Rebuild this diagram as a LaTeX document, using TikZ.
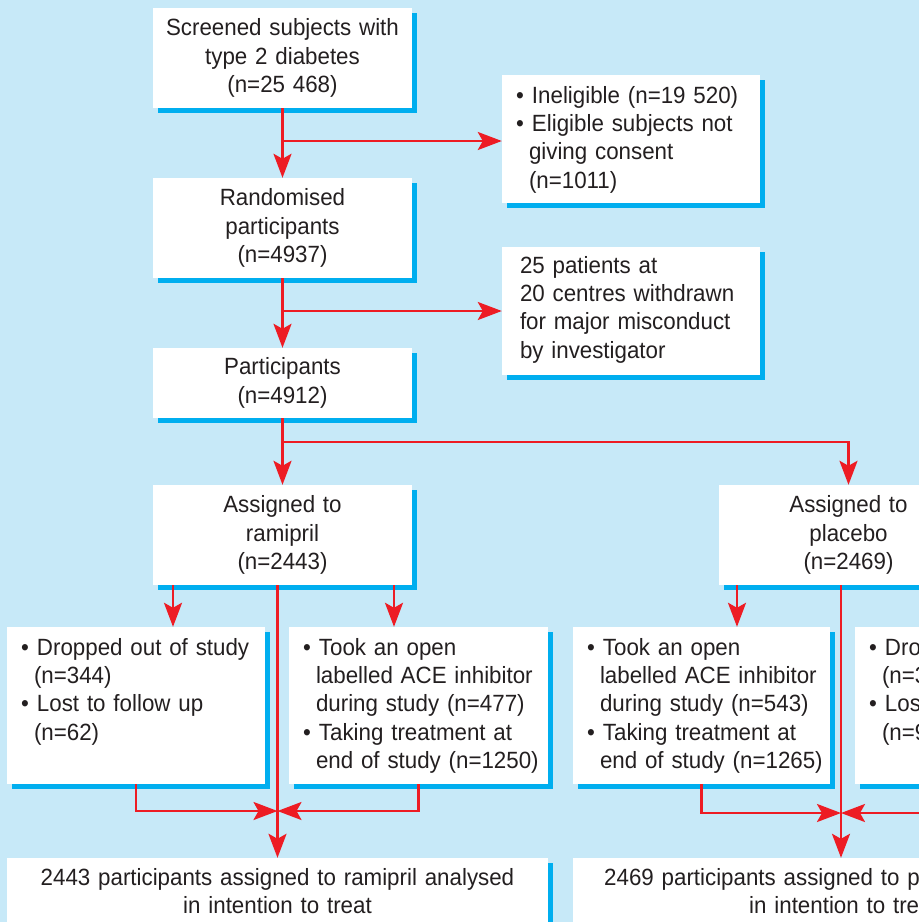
\documentclass[tikz,border=0pt]{standalone}
\usepackage{fontspec}
\setmainfont{Liberation Sans}[FakeStretch=0.95]
\usetikzlibrary{arrows.meta,shadows,calc}
\definecolor{bgc}{RGB}{199,233,248}
\definecolor{shc}{RGB}{0,174,239}
\definecolor{arc}{RGB}{237,28,36}
\definecolor{txc}{RGB}{35,31,32}
\newcommand\bi[1]{\hspace*{14pt}\mbox{\makebox[16pt][l]{•}#1}}
\newcommand\ci[1]{\hspace*{27pt}\mbox{#1}}
\newcommand\padline[1]{\hspace*{18pt}\mbox{#1}}
\begin{document}
\begin{tikzpicture}[x=1pt,y=-1pt,
  box/.style={fill=white, inner sep=0pt, text=txc,
    drop shadow={shadow xshift=5pt,shadow yshift=-5pt,fill=shc,opacity=1},
    font=\fontsize{23.5pt}{28.4pt}\selectfont},
  cbox/.style={box, align=center, text width=#1, minimum width=#1},
  lbox/.style={box, align=left, text width=#1, minimum width=#1},
  arr/.style={draw=arc, line width=2.6pt, -{Stealth[length=24pt,width=18pt,inset=5pt]}},
]
\useasboundingbox (0,0) rectangle (919,922);
\clip (0,0) rectangle (919,922);
\fill[bgc] (0,0) rectangle (919,922);

% boxes
\node[cbox=259pt, minimum height=100pt] (b1) at (282.5,58) {Screened subjects with\\type 2 diabetes\\(n=25 468)};
\node[lbox=258pt, text height=28pt, text depth=100pt] (b2) at (631,139) {\bi{Ineligible (n=19 520)}\\\bi{Eligible subjects not}\\\ci{giving consent}\\\ci{(n=1011)}};
\node[cbox=259pt, minimum height=100pt] (b3) at (282.5,228) {Randomised\\participants\\(n=4937)};
\node[lbox=258pt, text height=26pt, text depth=102pt] (b4) at (631,311) {\padline{25 patients at}\\\padline{20 centres withdrawn}\\\padline{for major misconduct}\\\padline{by investigator}};
\node[cbox=259pt, minimum height=70pt] (b5) at (282.5,383) {Participants\\(n=4912)};
\node[cbox=259pt, minimum height=100pt] (b6) at (282.5,535) {Assigned to\\ramipril\\(n=2443)};
\node[cbox=259pt, minimum height=100pt] (b7) at (848.5,535) {Assigned to\\placebo\\(n=2469)};
\node[lbox=258pt, text height=28pt, text depth=129pt] (b8) at (136,705.5) {\bi{Dropped out of study}\\\ci{(n=344)}\\\bi{Lost to follow up}\\\ci{(n=62)}};
\node[lbox=259pt, text height=28pt, text depth=129pt] (b9) at (418.5,705.5) {\bi{Took an open}\\\ci{labelled ACE inhibitor}\\\ci{during study (n=477)}\\\bi{Taking treatment at}\\\ci{end of study (n=1250)}};
\node[lbox=257pt, text height=28pt, text depth=129pt] (b10) at (701.5,705.5) {\bi{Took an open}\\\ci{labelled ACE inhibitor}\\\ci{during study (n=543)}\\\bi{Taking treatment at}\\\ci{end of study (n=1265)}};
\node[lbox=258pt, text height=28pt, text depth=129pt] (b11) at (984,705.5) {\bi{Dropped out of study}\\\ci{(n=345)}\\\bi{Lost to follow up}\\\ci{(n=91)}};
\node[cbox=541pt, text height=27pt, text depth=55pt] (b12) at (277.5,899) {2443 participants assigned to ramipril analysed\\in intention to treat};
\node[cbox=541pt, text height=27pt, text depth=55pt] (b13) at (843.5,899) {2469 participants assigned to placebo analysed\\in intention to treat};

% junction coordinates
\coordinate (j1) at (282.5,141);
\coordinate (j2) at (282.5,311);
\coordinate (j3) at (282.5,442);
\coordinate (m1) at (277.5,811);
\coordinate (c2) at (841,0);
\coordinate (m2) at (841,813);
\coordinate (d1) at (173,0);
\coordinate (d2) at (394,0);
\coordinate (d3) at (737,0);

% connectors
\draw[arr] (b1.south) -- (b3.north);
\draw[arr] (j1) -- (j1 -| b2.west);
\draw[arr] (b3.south) -- (b5.north);
\draw[arr] (j2) -- (j2 -| b4.west);
\draw[arr] (b5.south) -- (b6.north);
\draw[arr] (j3) -| (b7.north);

\draw[arr] (b6.south -| d1) -- (b8.north -| d1);
\draw[arr] (b6.south -| d2) -- (b9.north -| d2);
\draw[arr] (b12.north |- b6.south) -- (b12.north);
\draw[arr] (b8.south) |- (m1);
\draw[arr] (b9.south) |- (m1);

\draw[arr] (b7.south -| d3) -- (b10.north -| d3);
\draw[arr] (b7.south -| c2) -- (b13.north -| c2);
\draw[arr] (b10.south) |- (m2);
\draw[arr] (b11.south) |- (m2);
\end{tikzpicture}
\end{document}
